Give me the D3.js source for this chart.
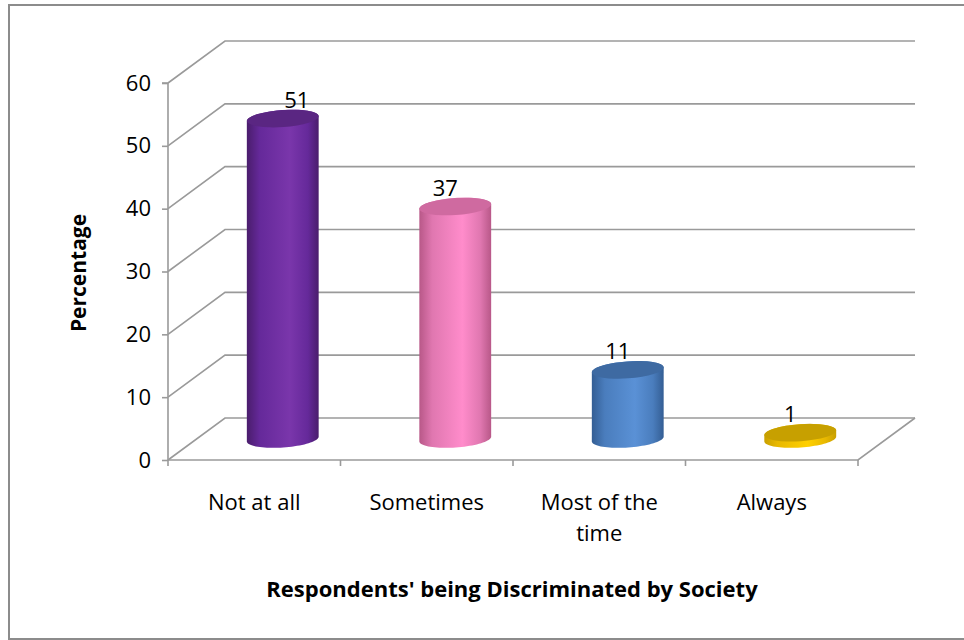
<!DOCTYPE html>
<html><head><meta charset="utf-8">
<script src="https://cdn.jsdelivr.net/npm/d3@7"></script>
<style>html,body{margin:0;padding:0;background:#fff;}svg{display:block;}</style>
</head><body>
<script>
const categories = ["Not at all", "Sometimes", "Most of the time", "Always"];
const values = [51, 37, 11, 1];
const yTicks = [0, 10, 20, 30, 40, 50, 60];
const yTitle = "Percentage";
const xTitle = "Respondents' being Discriminated by Society";
const colors = [
  {dark:"#4a1d6c", mid:"#65299a", light:"#7a36ab", top:"#5a2682"},
  {dark:"#b85888", mid:"#e077b0", light:"#ff8ccb", top:"#cf6aa0"},
  {dark:"#345e94", mid:"#4a7dbd", light:"#5a91d6", top:"#3e6aa2"},
  {dark:"#c9a000", mid:"#e8b800", light:"#ffd000", top:"#c7a000"}
];

const W = 964, H = 640;
const svg = d3.select("body").append("svg").attr("width", W).attr("height", H);
const font = "'Open Sans', sans-serif";
const fs = 22;

svg.append("rect").attr("x", 9).attr("y", 5).attr("width", 970).attr("height", 634)
  .attr("fill", "#fff").attr("stroke", "#8c8c8c").attr("stroke-width", 2);

const x0 = 168, x1 = 858;
const DX = 57, DY = -42;
const x = d3.scaleBand().domain(categories).range([x0, x1]).padding(0);
const y = d3.scaleLinear().domain([0, 60]).range([460, 83]);

const grid = "#9a9a9a";
const g = svg.append("g");

yTicks.forEach(t => {
  const yy = y(t);
  g.append("path")
    .attr("d", `M${x0},${yy}L${x0+DX},${yy+DY}L${x1+DX},${yy+DY}`)
    .attr("fill", "none").attr("stroke", grid).attr("stroke-width", 1.6);
});
g.append("path").attr("d", `M${x0},${y(0)}L${x1},${y(0)}L${x1+DX},${y(0)+DY}`)
  .attr("fill", "none").attr("stroke", grid).attr("stroke-width", 1.6);

const yAxis = d3.axisLeft(y).tickValues(yTicks).tickSize(6).tickPadding(11);
const ya = svg.append("g").attr("transform", `translate(${x0},0)`).call(yAxis);
ya.select(".domain").attr("stroke", grid).attr("stroke-width", 1.6).attr("d", `M-6,${y(60)}H0V${y(0)}`);
ya.selectAll(".tick line").attr("stroke", grid).attr("stroke-width", 1.6);
ya.selectAll(".tick text").attr("font-family", font).attr("font-size", fs).attr("fill", "#000");

const xAxis = d3.axisBottom(x).tickSize(0).tickFormat("");
const xa = svg.append("g").attr("transform", `translate(0,${y(0)})`).call(xAxis);
xa.select(".domain").remove();
const bounds = categories.map(c => x(c)).concat([x1]);
xa.selectAll(".tickmark").data(bounds).enter().append("line")
  .attr("x1", d => d).attr("x2", d => d).attr("y1", 0).attr("y2", 6)
  .attr("stroke", grid).attr("stroke-width", 1.6);

const catLines = {"Most of the time": ["Most of the", "time"]};
categories.forEach(c => {
  const lines = catLines[c] || [c];
  const t = svg.append("text").attr("x", x(c) + x.bandwidth()/2).attr("y", 510)
    .attr("text-anchor", "middle").attr("font-family", font).attr("font-size", fs).attr("fill", "#000");
  lines.forEach((l, i) => t.append("tspan").attr("x", x(c) + x.bandwidth()/2).attr("dy", i ? 31 : 0).text(l));
});

const defs = svg.append("defs");
const rx = 36, ry = 8.5, rot = -4 * Math.PI / 180;
function ept(cx, cy, t) {
  return [cx + rx*Math.cos(t)*Math.cos(rot) - ry*Math.sin(t)*Math.sin(rot),
          cy + rx*Math.cos(t)*Math.sin(rot) + ry*Math.sin(t)*Math.cos(rot)];
}
function arc(cx, cy, t0, t1, n) {
  const pts = [];
  for (let i = 0; i <= n; i++) pts.push(ept(cx, cy, t0 + (t1 - t0) * i / n));
  return pts;
}
const labelShift = i => (i === 0 ? 14 : -10);
values.forEach((v, i) => {
  const c = colors[i];
  const gid = "grad" + i;
  const gr = defs.append("linearGradient").attr("id", gid).attr("x1", "0").attr("x2", "1").attr("y1", "0").attr("y2", "0");
  [[0, c.dark], [0.18, c.mid], [0.6, c.light], [0.85, c.mid], [1, c.dark]].forEach(s =>
    gr.append("stop").attr("offset", s[0]).attr("stop-color", s[1]));
  const cx = x(categories[i]) + x.bandwidth()/2 + DX/2;
  const by = y(0) + DY/2;
  const ty = y(v) + DY/2;
  const pts = arc(cx, by, 0, Math.PI, 40).concat(arc(cx, ty, Math.PI, 2*Math.PI, 40));
  svg.append("path").attr("d", "M" + pts.map(p => p.join(",")).join("L") + "Z")
    .attr("fill", `url(#${gid})`);
  svg.append("ellipse").attr("cx", cx).attr("cy", ty).attr("rx", rx).attr("ry", ry)
    .attr("transform", `rotate(${rot*180/Math.PI},${cx},${ty})`)
    .attr("fill", c.top);
  svg.append("text").attr("x", cx + labelShift(i)).attr("y", ty - ry - 2)
    .attr("text-anchor", "middle").attr("font-family", font).attr("font-size", fs).attr("fill", "#000")
    .text(v);
});

svg.append("text").attr("transform", `translate(86,273) rotate(-90)`)
  .attr("text-anchor", "middle").attr("font-family", font).attr("font-weight", "bold")
  .attr("font-size", 21).attr("fill", "#000").text(yTitle);
svg.append("text").attr("x", 512).attr("y", 597)
  .attr("text-anchor", "middle").attr("font-family", font).attr("font-weight", "bold")
  .attr("font-size", 22).attr("fill", "#000").text(xTitle);
</script>
</body></html>
